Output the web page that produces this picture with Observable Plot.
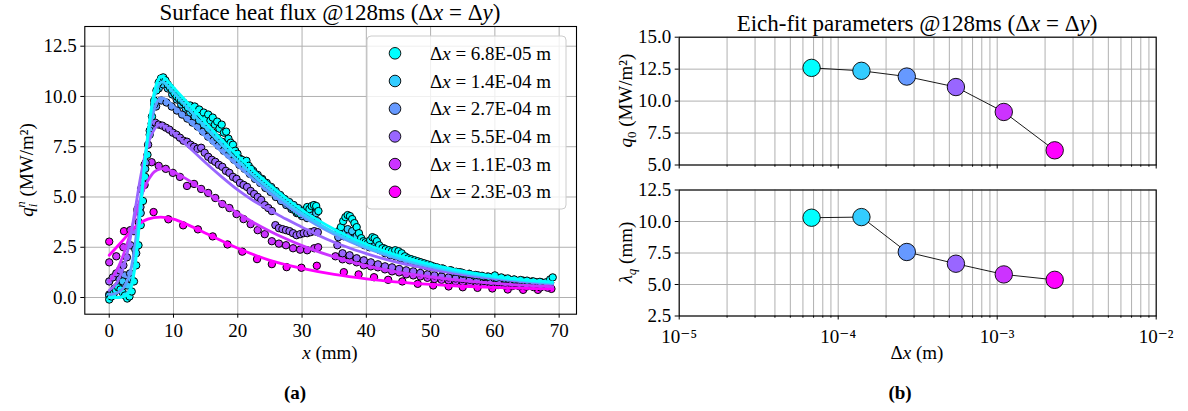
<!DOCTYPE html>
<html><head><meta charset="utf-8">
<script src="https://cdn.jsdelivr.net/npm/d3@7"></script>
<script src="https://cdn.jsdelivr.net/npm/@observablehq/plot@0.6"></script>
<style>
body{margin:0;background:#fff;}
#root{position:relative;width:1188px;height:411px;overflow:hidden;}
#root svg{position:absolute;}
</style></head><body><div id="root"></div>
<script>
const FONT = "Liberation Serif, DejaVu Serif, serif";

// ---------- shared series info ----------
const seriesLabels = ["6.8E-05","1.4E-04","2.7E-04","5.5E-04","1.1E-03","2.3E-03"];
const seriesColors = ["#00ffff","#33ccff","#6699ff","#9966ff","#cc33ff","#ff00ff"];
const dxMeters = [6.8e-5,1.4e-4,2.7e-4,5.5e-4,1.1e-3,2.3e-3];

// ---------- panel (b) values ----------
const q0 = [12.6,12.37,11.92,11.1,9.15,6.15];
const lambdaQ = [10.3,10.35,7.58,6.65,5.8,5.37];

// ---------- ticks ----------
const xTicksA = [0,10,20,30,40,50,60,70];
const yTicksA = [0,2.5,5,7.5,10,12.5];
const yTicksQ0 = [5,7.5,10,12.5,15];
const yTicksLam = [2.5,5,7.5,10,12.5];
const majorDx = [1e-5,1e-4,1e-3,1e-2];
const majorDxLabels = ["10⁻⁵","10⁻⁴","10⁻³","10⁻²"];
const minorDx = [2e-5,3e-5,4e-5,5e-5,6e-5,7e-5,8e-5,9e-5,2e-4,3e-4,4e-4,5e-4,6e-4,7e-4,8e-4,9e-4,2e-3,3e-3,4e-3,5e-3,6e-3,7e-3,8e-3,9e-3];

// ---------- panel (a) scatter data [x (mm), q (MW/m2)] ----------
const pts68 = [[0,-0.1],[0.35,0.05],[0.7,0.2],[1.05,0.35],[1.4,0.5],[1.75,0.4],[2.1,0.25],[2.45,0.1],[2.8,-0.05],[3.15,0.05],[3.5,0.3],[3.85,0.8],[4.2,1.6],[4.55,2.6],[4.9,3.6],[5.25,4.8],[5.6,6.0],[5.95,7.1],[6.3,8.1],[6.65,9.0],[7.0,9.8],[7.35,10.3],[7.7,10.7],[8.05,10.9],[8.4,10.95],[8.75,10.8],[9.1,10.6],[9.45,10.45],[9.8,10.3],[10.15,10.15],[10.5,10.0],[10.85,9.9],[11.2,9.8],[11.55,9.7],[11.9,9.6],[12.25,9.45],[12.6,9.55],[12.95,9.3],[13.3,9.5],[13.65,9.2],[14.0,9.35],[14.35,9.05],[14.7,9.2],[15.05,8.9],[15.4,9.1],[15.75,8.8],[16.1,8.95],[16.45,8.6],[16.8,8.75],[17.15,8.4],[17.5,8.6],[17.85,8.2],[18.2,8.25],[18.55,7.9],[18.9,7.7],[19.25,7.6],[19.6,7.3],[19.95,7.15],[20.3,6.9],[20.65,6.85],[21.0,6.7],[21.35,6.8],[21.7,6.55],[22.05,6.4],[22.4,6.2],[22.75,6.1],[23.1,6.0],[23.45,5.9],[23.8,5.85],[24.15,5.7],[24.5,5.6],[24.85,5.5],[25.2,5.4],[25.55,5.3],[25.9,5.2],[26.25,5.1],[26.6,5.0],[26.95,4.95],[27.3,4.85],[27.65,4.7],[28.0,4.6],[28.35,4.5],[28.7,4.4],[29.05,4.3],[29.4,4.2],[29.75,4.15],[30.1,4.2],[30.45,4.35],[30.8,4.5],[31.15,4.4],[31.5,4.55],[31.85,4.6],[32.2,4.55],[32.55,4.3],[35.7,3.3],[36.05,3.5],[36.4,3.8],[36.75,4.0],[37.1,4.1],[37.45,4.05],[37.8,3.9],[38.15,3.7],[38.5,3.5],[38.85,3.2],[39.2,2.95],[39.55,2.8],[39.9,2.75],[40.25,2.7],[40.6,2.85],[40.95,3.0],[41.3,2.95],[41.65,2.8],[42.0,2.6],[42.5,2.45],[43.0,2.4],[43.5,2.35],[44.0,2.3],[44.5,2.35],[45.0,2.3],[45.5,2.2],[46.0,2.05],[46.5,1.95],[47.0,1.9],[47.5,1.85],[48.0,1.8],[48.5,1.75],[49.0,1.7],[49.5,1.65],[50.0,1.6],[51,1.5],[52,1.42],[53,1.35],[54,1.28],[55,1.22],[56,1.17],[57,1.12],[58,1.08],[59,1.04],[60,1.1],[61,1.0],[62,0.95],[63,0.9],[64,0.87],[65,0.84],[66,0.8],[67,0.78],[68,0.76],[68.6,0.9],[69,1.0]];
const pts14 = [[0,0.1],[0.7,0.3],[1.4,0.6],[2.1,0.8],[2.8,0.6],[3.5,0.9],[4.2,2.2],[4.9,4.2],[5.6,6.4],[6.3,8.3],[7.0,9.6],[7.7,10.4],[8.4,10.6],[9.1,10.4],[9.8,10.1],[10.5,9.85],[11.2,9.6],[11.9,9.4],[12.6,9.2],[13.3,9.0],[14.0,8.8],[14.7,8.6],[15.4,8.4],[16.1,8.2],[16.8,7.95],[17.5,7.75],[18.2,7.55],[18.9,7.3],[19.6,7.1],[20.3,6.9],[21.0,6.7],[21.7,6.5],[22.4,6.3],[23.1,6.1],[23.8,5.9],[24.5,5.7],[25.2,5.5],[25.9,5.3],[26.6,5.1],[27.3,4.9],[28.0,4.75],[28.7,4.6],[29.4,4.45],[30.1,4.3],[30.8,4.25],[31.5,4.3],[32.2,4.2],[35.7,3.2],[36.4,3.3],[37.1,3.4],[37.8,3.3],[38.5,3.05],[39.2,2.85],[39.9,2.7],[40.6,2.7],[41.3,2.75],[42.0,2.55],[42.7,2.45],[43.4,2.35],[44.1,2.25],[44.8,2.2],[45.5,2.15],[46.2,2.0],[46.9,1.9],[47.6,1.82],[48.3,1.75],[49.0,1.68],[50.4,1.55],[51.8,1.45],[53.2,1.35],[54.6,1.26],[56.0,1.18],[57.4,1.1],[58.8,1.04],[60.2,0.98],[61.6,0.93],[63.0,0.88],[64.4,0.84],[65.8,0.8],[67.2,0.76],[68.6,0.74]];
const pts27 = [[0,0.15],[0.81,0.45],[1.62,0.9],[2.43,1.1],[3.24,1.2],[4.05,2.4],[4.86,4.5],[5.67,6.7],[6.48,8.4],[7.29,9.5],[8.1,9.8],[8.91,9.7],[9.72,9.5],[10.53,9.3],[11.34,9.1],[12.15,8.9],[12.96,8.7],[13.77,8.5],[14.58,8.25],[15.39,8.0],[16.2,7.8],[17.01,7.55],[17.82,7.3],[18.63,7.1],[19.44,6.85],[20.25,6.6],[21.06,6.4],[21.87,6.15],[22.68,5.9],[23.49,5.7],[24.3,5.45],[25.11,5.25],[25.92,5.0],[26.73,4.8],[27.54,4.6],[28.35,4.4],[29.16,4.2],[29.97,4.05],[30.78,3.95],[31.59,3.95],[32.4,3.8],[35.64,3.0],[36.45,3.05],[37.26,3.1],[38.07,2.95],[38.88,2.75],[39.69,2.6],[40.5,2.5],[41.31,2.5],[42.12,2.35],[42.93,2.2],[43.74,2.1],[44.55,2.05],[45.36,1.95],[46.17,1.85],[46.98,1.78],[47.79,1.7],[48.6,1.62],[49.41,1.55],[50.22,1.5],[51.84,1.38],[53.46,1.28],[55.08,1.18],[56.7,1.1],[58.32,1.02],[59.94,0.96],[61.56,0.9],[63.18,0.85],[64.8,0.8],[66.42,0.76],[68.04,0.72]];
const pts55 = [[0,0.8],[0.55,1.0],[1.1,1.2],[1.65,1.35],[2.2,1.6],[2.75,2.0],[3.3,2.6],[3.85,3.3],[4.4,4.3],[4.95,5.4],[5.5,6.6],[6.05,7.6],[6.6,8.65],[7.15,8.7],[7.7,8.6],[8.25,8.55],[8.8,8.45],[9.35,8.35],[9.9,8.2],[10.45,8.1],[11.0,7.95],[11.55,7.8],[12.1,7.75],[12.65,7.6],[13.2,7.5],[13.75,7.4],[14.3,7.45],[14.85,7.2],[15.4,7.0],[15.95,6.85],[16.5,6.75],[17.05,6.6],[17.6,6.5],[18.15,6.3],[18.7,6.2],[19.25,6.0],[19.8,5.9],[20.35,5.7],[20.9,5.6],[21.45,5.5],[22.0,5.3],[22.55,5.15],[23.1,5.0],[23.65,4.85],[24.2,4.6],[24.75,4.45],[25.3,4.3],[25.85,3.6],[26.4,3.45],[26.95,3.4],[27.5,3.35],[28.05,3.3],[28.6,3.2],[29.15,3.1],[29.7,3.15],[30.25,3.2],[30.8,3.2],[31.35,3.25],[31.9,3.3],[32.45,3.25],[35.5,2.6],[36.3,2.2],[37.4,2.1],[38.5,1.95],[39.6,1.85],[40.7,1.75],[41.8,1.65],[42.9,1.55],[44.0,1.5],[45.1,1.42],[46.2,1.35],[47.3,1.3],[48.4,1.22],[49.5,1.15],[50.6,1.1],[51.7,1.05],[52.8,1.0],[53.9,0.95],[55.0,0.92],[56.1,0.88],[57.2,0.85],[58.3,0.82],[59.4,0.78],[60.5,0.76],[61.6,0.73],[62.7,0.7],[63.8,0.68],[64.9,0.66],[66.0,0.63],[67.1,0.62],[68.2,0.6]];
const pts11 = [[0,1.75],[1.1,2.05],[2.2,2.5],[3.3,3.35],[4.4,4.4],[5.5,5.6],[6.6,6.73],[7.7,6.55],[8.8,6.4],[9.9,6.2],[11.0,6.0],[12.1,5.55],[13.2,5.65],[14.3,5.4],[15.4,5.2],[16.5,4.95],[17.6,4.65],[18.7,4.45],[19.8,4.15],[20.9,3.9],[22.0,3.65],[23.1,3.35],[24.2,3.15],[25.3,2.8],[26.4,2.68],[27.5,2.6],[28.6,2.45],[29.7,2.38],[30.8,2.35],[31.9,2.45],[32.5,2.5],[35.2,2.05],[36.3,1.9],[37.4,1.85],[38.5,1.75],[39.6,1.6],[40.7,1.55],[41.8,1.5],[42.9,1.4],[44.0,1.3],[45.1,1.25],[46.2,1.15],[47.3,1.1],[48.4,1.05],[49.5,0.98],[50.6,0.92],[51.7,0.88],[52.8,0.85],[53.9,0.8],[55.0,0.78],[56.1,0.74],[57.2,0.7],[58.3,0.68],[59.4,0.65],[60.5,0.62],[61.6,0.6],[62.7,0.57],[63.8,0.56],[64.9,0.54],[66.0,0.52],[67.1,0.5],[68.2,0.49]];
const pts23 = [[0,2.78],[2.3,3.3],[4.6,3.75],[6.9,4.25],[9.2,3.89],[11.5,3.59],[13.8,3.39],[16.1,3.04],[18.4,2.64],[20.7,2.28],[23.0,1.91],[25.3,1.66],[27.6,1.51],[29.9,1.48],[32.3,1.58],[36.5,1.26],[38.8,1.15],[41.2,1.01],[43.4,0.88],[45.6,0.8],[48.0,0.68],[50.4,0.6],[52.8,0.55],[55.0,0.51],[57.3,0.48],[59.6,0.45],[62.0,0.4],[64.4,0.38],[66.7,0.38],[68.8,0.43]];

// ---------- panel (a) Eich-fit curves [x (mm), q (MW/m2)] ----------
const fit68 = [[0,0],[1,0],[2,0.02],[3,0.2],[3.5,0.6],[4,1.5],[4.5,3.0],[5,4.8],[5.5,6.6],[6,8.1],[6.5,9.3],[7,10.2],[7.5,10.75],[8,11.0],[8.5,10.95],[9,10.8],[10,10.45],[11,10.1],[12,9.75],[13,9.4],[15,8.7],[17.5,7.85],[20,7.05],[22.5,6.3],[25,5.6],[27.5,4.95],[30,4.35],[32.5,3.85],[35,3.4],[37.5,3.0],[40,2.65],[42.5,2.35],[45,2.08],[47.5,1.85],[50,1.65],[52.5,1.47],[55,1.31],[57.5,1.17],[60,1.05],[62.5,0.95],[65,0.87],[67.5,0.8],[69,0.77]];
const fit14 = [[0,0.02],[2,0.05],[3,0.3],[3.5,0.75],[4,1.7],[4.5,3.2],[5,4.9],[5.5,6.6],[6,8.0],[6.5,9.1],[7,9.95],[7.5,10.45],[8,10.7],[8.5,10.7],[9,10.55],[10,10.2],[11,9.85],[12,9.5],[13,9.15],[15,8.45],[17.5,7.6],[20,6.8],[22.5,6.05],[25,5.38],[27.5,4.75],[30,4.18],[32.5,3.68],[35,3.24],[37.5,2.86],[40,2.52],[42.5,2.23],[45,1.97],[47.5,1.75],[50,1.56],[52.5,1.39],[55,1.24],[57.5,1.11],[60,1.0],[62.5,0.9],[65,0.82],[67.5,0.76],[69,0.72]];
const fit27 = [[0,0.15],[1,0.2],[2,0.4],[3,1.0],[3.5,1.6],[4,2.6],[4.5,3.9],[5,5.3],[5.5,6.6],[6,7.8],[6.5,8.7],[7,9.35],[7.5,9.75],[8,9.93],[8.5,9.9],[9,9.8],[10,9.5],[11,9.2],[12.5,8.75],[15,8.0],[17.5,7.25],[20,6.55],[22.5,5.85],[25,5.2],[27.5,4.6],[30,4.05],[32.5,3.57],[35,3.15],[37.5,2.78],[40,2.45],[42.5,2.17],[45,1.92],[47.5,1.7],[50,1.52],[52.5,1.36],[55,1.22],[57.5,1.09],[60,0.98],[62.5,0.89],[65,0.81],[67.5,0.75],[69,0.71]];
const fit55 = [[0,0.35],[1,0.65],[2,1.3],[3,2.5],[4,4.3],[5,6.2],[6,7.6],[7,8.35],[7.5,8.55],[8,8.6],[9,8.45],[10,8.2],[12.5,7.45],[15,6.7],[17.5,6.0],[20,5.35],[22.5,4.8],[25,4.35],[27.5,3.9],[30,3.5],[32.5,3.1],[35,2.75],[37.5,2.45],[40,2.18],[45,1.73],[50,1.4],[55,1.14],[60,0.94],[65,0.78],[69,0.68]];
const fit11 = [[0,0.8],[1,1.25],[2,1.95],[3,2.9],[4,4.0],[5,5.05],[6,5.8],[7,6.25],[8,6.4],[9,6.38],[10,6.25],[12.5,5.8],[15,5.25],[17.5,4.7],[20,4.2],[22.5,3.72],[25,3.3],[27.5,2.92],[30,2.58],[32.5,2.28],[35,2.02],[37.5,1.79],[40,1.59],[45,1.26],[50,1.02],[55,0.84],[60,0.7],[65,0.6],[69,0.54]];
const fit23 = [[0,2.1],[2,2.8],[4,3.5],[6,3.9],[8,4.0],[10,3.9],[12,3.65],[15,3.2],[20,2.45],[25,1.85],[30,1.45],[35,1.15],[40,0.93],[45,0.77],[50,0.65],[55,0.56],[60,0.5],[65,0.45],[69,0.43]];

const scatterSets = [pts68, pts14, pts27, pts55, pts11, pts23];
const fitSets = [fit68, fit14, fit27, fit55, fit11, fit23];

const root = document.getElementById("root");
const GRID = "#b0b0b0";
const styleBase = {background: "transparent", overflow: "visible", color: "black"};
const axisFont = {fontFamily: FONT, fontSize: 19, fontVariant: "normal"};

function fixFonts(svg) {
  svg.setAttribute("font-family", FONT);
  svg.setAttribute("font-size", "19");
  d3.select(svg).selectAll("text").attr("font-family", FONT).attr("font-size", 19)
    .style("font-family", FONT).style("font-size", "19px").style("font-variant", "normal");
}

// ---------- panel (a) ----------
const marksA = [
  Plot.gridX(xTicksA, {stroke: GRID, strokeOpacity: 1, strokeWidth: 1}),
  Plot.gridY(yTicksA, {stroke: GRID, strokeOpacity: 1, strokeWidth: 1})
];
for (let i = 5; i >= 0; i--) {
  marksA.push(Plot.dot(scatterSets[i], {x: d => d[0], y: d => d[1], r: 3.7, fill: seriesColors[i], stroke: "black", strokeWidth: 1}));
}
for (let i = 5; i >= 0; i--) {
  marksA.push(Plot.line(fitSets[i], {x: d => d[0], y: d => d[1], stroke: seriesColors[i], strokeWidth: 2.8, curve: "catmull-rom"}));
}
marksA.push(
  Plot.frame({stroke: "black", strokeWidth: 1.1}),
  Plot.axisX(xTicksA, {tickSize: 4, tickPadding: 5, label: null, tickFormat: d => String(d), ...axisFont}),
  Plot.axisY(yTicksA, {tickSize: 4, tickPadding: 4, label: null, tickFormat: d3.format(".1f"), ...axisFont})
);
const plotA = Plot.plot({
  width: 600, height: 360,
  marginLeft: 84.3, marginRight: 24, marginTop: 26, marginBottom: 46.3,
  style: styleBase,
  x: {domain: [-3.8, 72.7]},
  y: {domain: [-0.83, 13.48]},
  marks: marksA
});
fixFonts(plotA);
plotA.style.left = "0px"; plotA.style.top = "0px";
root.appendChild(plotA);

// ---------- panel (b) ----------
const tableB = dxMeters.map((d, i) => ({dx: d, q0: q0[i], lam: lambdaQ[i], color: seriesColors[i]}));

function panelB(key, yDomain, yTicks, height, mt, mb, showLabels) {
  const marks = [
    Plot.gridX(majorDx.concat(minorDx), {stroke: GRID, strokeOpacity: 1, strokeWidth: 1}),
    Plot.gridY(yTicks, {stroke: GRID, strokeOpacity: 1, strokeWidth: 1}),
    Plot.line(tableB, {x: "dx", y: key, stroke: "black", strokeWidth: 0.9}),
    Plot.dot(tableB, {x: "dx", y: key, r: 8.7, fill: "color", stroke: "black", strokeWidth: 0.9}),
    Plot.frame({stroke: "black", strokeWidth: 1.1}),
    Plot.axisX(minorDx, {tickSize: 2.2, label: null, tickFormat: () => ""}),
    Plot.axisX(majorDx, {tickSize: 4, tickPadding: 9, label: null,
      tickFormat: showLabels ? d => majorDxLabels[majorDx.indexOf(d)] : () => "", ...axisFont}),
    Plot.axisY(yTicks, {tickSize: 4, tickPadding: 4, label: null, tickFormat: d3.format(".1f"), ...axisFont})
  ];
  return Plot.plot({
    width: 588, height,
    marginLeft: 78.7, marginRight: 32.3, marginTop: mt, marginBottom: mb,
    style: styleBase,
    color: {type: "identity"},
    x: {type: "log", domain: [1e-5, 1e-2]},
    y: {domain: yDomain},
    marks
  });
}
const plotB1 = panelB("q0", [5, 15], yTicksQ0, 180, 36.7, 15.5, false);
fixFonts(plotB1);
plotB1.style.left = "600px"; plotB1.style.top = "0px";
root.appendChild(plotB1);
const plotB2 = panelB("lam", [2.5, 12.5], yTicksLam, 231, 9.5, 95.5, true);
fixFonts(plotB2);
plotB2.style.left = "600px"; plotB2.style.top = "180px";
root.appendChild(plotB2);

// ---------- overlay texts & legend ----------
const ov = d3.select(root).append("svg")
  .attr("width", 1188).attr("height", 411)
  .style("left", "0px").style("top", "0px").style("pointer-events", "none");

function addText(x, y, parts, {size = 19, anchor = "middle", rotate = 0, weight = "normal"} = {}) {
  const t = ov.append("text").attr("x", x).attr("y", y)
    .attr("text-anchor", anchor).attr("font-size", size).attr("font-weight", weight)
    .attr("font-family", FONT).attr("fill", "black");
  if (rotate) t.attr("transform", `rotate(${rotate},${x},${y})`);
  for (const p of parts) {
    const o = typeof p === "string" ? {t: p} : p;
    const s = t.append("tspan").text(o.t);
    if (o.it) s.attr("font-style", "italic");
    if (o.size) s.attr("font-size", o.size);
    if (o.dx) s.attr("dx", o.dx);
    if (o.dy) s.attr("dy", o.dy);
  }
  return t;
}

addText(330, 20, ["Surface heat flux @128ms (Δ", {t: "x", it: 1}, " = Δ", {t: "y", it: 1}, ")"], {size: 23});
addText(917, 30.5, ["Eich-fit parameters @128ms (Δ", {t: "x", it: 1}, " = Δ", {t: "y", it: 1}, ")"], {size: 23});
addText(330, 359, [{t: "x", it: 1}, " (mm)"]);
addText(917, 359, ["Δ", {t: "x", it: 1}, " (m)"]);
addText(33, 170, [{t: "q", it: 1}, {t: "i", it: 1, size: 13, dy: 4}, {t: "n", it: 1, size: 13, dx: -4, dy: -12}, {t: " (MW/m²)", dy: 8}], {rotate: -90});
addText(632, 100.6, [{t: "q", it: 1}, {t: "0", size: 13, dy: 4}, {t: " (MW/m²)", dy: -4}], {rotate: -90});
addText(632, 252.5, [{t: "λ", it: 1}, {t: "q", it: 1, size: 13, dy: 4}, {t: " (mm)", dy: -4}], {rotate: -90});
addText(295, 399, ["(a)"], {weight: "bold"});
addText(900, 399, ["(b)"], {weight: "bold"});

// legend
ov.append("rect").attr("x", 367).attr("y", 36).attr("width", 199).attr("height", 173).attr("rx", 4)
  .attr("fill", "white").attr("fill-opacity", 0.8).attr("stroke", "#cccccc").attr("stroke-width", 1);
seriesLabels.forEach((lab, i) => {
  const cy = 53.3 + 27.7 * i;
  ov.append("circle").attr("cx", 395).attr("cy", cy).attr("r", 5.8)
    .attr("fill", seriesColors[i]).attr("stroke", "black").attr("stroke-width", 0.9);
  addText(430, cy + 6.5, ["Δ", {t: "x", it: 1}, " = " + lab + " m"], {anchor: "start"});
});
</script></body></html>
